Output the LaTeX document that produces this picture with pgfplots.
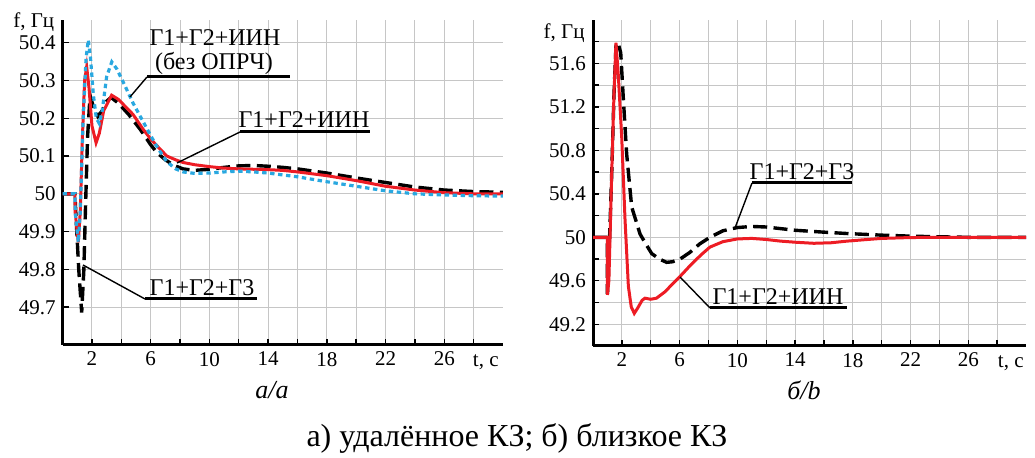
\documentclass[border=0pt]{standalone}
\usepackage{fontspec}
\setmainfont{Liberation Serif}
\usepackage{pgfplots}
\pgfplotsset{compat=1.18}
\definecolor{cred}{RGB}{237,28,36}
\definecolor{cblue}{RGB}{41,168,224}
\pgfplotsset{mystyle/.style={
  scale only axis, axis x line=bottom, axis y line=left,
  axis line style={-, line width=1.5pt, black},
  tick align=inside, major tick length=3pt, minor tick length=3pt,
  tick style={black, line width=0.7pt},
  grid=both, major grid style={gray!45, line width=0.5pt}, minor grid style={gray!45, line width=0.5pt},
  ticklabel style={font=\fontsize{10.5}{12}\selectfont},
  /pgf/number format/assume math mode=true,
  xmin=0, xmax=30, xtick={2,4,...,28},
  xticklabels={2,,6,,10,,14,,18,,22,,26,},
  clip mode=individual,
}}
\tikzset{redl/.style={cred, line width=1.5pt},
  blackd/.style={black, line width=1.7pt, dash pattern=on 7pt off 3.2pt},
  blued/.style={cblue, line width=1.6pt, dash pattern=on 2.2pt off 1.8pt},
  ann/.style={font=\fontsize{12}{14}\selectfont, inner sep=0pt, anchor=base},
  lead/.style={black, line width=0.7pt},
  uline/.style={black, line width=1.5pt}}
\begin{document}
\begin{tikzpicture}
\path[use as bounding box] (0,0) rectangle (517.5pt,229pt);
% ---------- left panel ----------
\begin{axis}[mystyle, at={(31.3pt,56.5pt)}, anchor=south west,
  width=220.2pt, height=162.5pt, ymin=49.6, ymax=50.46,
  ytick={49.7,49.8,49.9,50,50.1,50.2,50.3,50.4},
  yticklabels={49.7,49.8,49.9,50,50.1,50.2,50.3,50.4}]
\addplot[blackd] table {
0 50
0.84 50
0.9 49.95
1.1 49.8
1.3 49.686
1.45 49.8
1.55 49.95
1.7 50.15
1.87 50.26
2.1 50.23
2.4 50.205
2.7 50.22
3.0 50.245
3.3 50.255
3.8 50.24
4.5 50.21
5.3 50.17
6.0 50.13
6.4 50.11
7.0 50.09
7.6 50.075
8.2 50.066
9.0 50.062
10 50.065
11 50.07
12 50.074
13 50.075
14 50.073
15 50.07
16 50.066
18 50.055
20 50.042
22 50.03
24 50.018
26 50.01
28 50.006
30 50.004
};
\addplot[redl] table {
0 50
0.84 50
0.86 49.95
1.07 49.872
1.2 49.95
1.35 50.15
1.5 50.3
1.64 50.336
1.8 50.28
2.0 50.18
2.28 50.135
2.5 50.16
2.8 50.22
3.34 50.261
3.8 50.25
4.3 50.23
4.8 50.21
5.5 50.17
6.0 50.145
6.6 50.12
7.1 50.10
7.7 50.09
8.2 50.083
9 50.077
10 50.072
11 50.068
12 50.066
13 50.065
14 50.064
15 50.062
16 50.058
18 50.048
20 50.035
22 50.02
24 50.01
26 50.003
28 50.0
30 50.0
};
\addplot[blued] table {
0 50
0.84 50
0.86 49.95
1.07 49.872
1.2 49.95
1.4 50.2
1.6 50.36
1.75 50.407
1.9 50.36
2.1 50.26
2.3 50.2
2.5 50.186
2.7 50.22
3.0 50.31
3.35 50.349
3.7 50.33
4.2 50.29
4.8 50.24
5.5 50.19
6.0 50.154
6.5 50.12
7.1 50.085
7.7 50.066
8.2 50.058
9.0 50.054
10 50.055
11 50.058
12 50.06
13 50.058
14 50.055
16 50.045
18 50.032
20 50.02
22 50.008
24 50.0
26 49.997
28 49.995
30 49.994
};
\node[anchor=east, font=\fontsize{10.5}{12}\selectfont, inner sep=1pt] at ([xshift=-3pt,yshift=-1pt]rel axis cs:0,1) {f, Гц};
\node[anchor=north east, font=\fontsize{10.5}{12}\selectfont, inner sep=1pt] at ([xshift=-1pt,yshift=-3.5pt]rel axis cs:1,0) {t, c};
\end{axis}
% ---------- right panel ----------
\begin{axis}[mystyle, at={(296.5pt,56pt)}, anchor=south west,
  width=216.5pt, height=163pt, ymin=49, ymax=52,
  ytick={49.2,49.6,50,50.4,50.8,51.2,51.6},
  yticklabels={49.2,49.6,50,50.4,50.8,51.2,51.6},
  minor ytick={49.4,49.8,50.2,50.6,51.0,51.4,51.8}]
\addplot[blackd] table {
0 50
0.99 50
1.0 49.48
1.05 49.6
1.3 50.6
1.45 51.3
1.6 51.79
1.75 51.78
1.92 51.70
2.1 51.28
2.33 50.77
2.68 50.28
3.26 50.03
3.7 49.93
4.07 49.85
4.6 49.8
5.1 49.77
5.5 49.775
6.03 49.80
6.7 49.86
7.4 49.94
8.1 50.0
9 50.06
10 50.09
11 50.1
12 50.095
13 50.08
14 50.065
15.7 50.05
17.6 50.035
20 50.02
22.2 50.01
24 50.005
26 50.0
30 50.0
};
\addplot[redl] table {
0 50
0.99 50
1.0 49.47
1.1 49.6
1.3 50.6
1.45 51.3
1.59 51.79
1.75 51.5
1.99 50.92
2.22 50.16
2.45 49.55
2.65 49.36
2.86 49.30
3.1 49.35
3.4 49.42
3.6 49.44
4.0 49.43
4.4 49.44
5.0 49.5
5.5 49.57
6.03 49.64
6.8 49.75
7.5 49.84
8.1 49.91
9.0 49.96
10 49.985
11 49.99
12 49.98
13 49.965
14 49.955
15.3 49.945
16.5 49.95
17.6 49.965
19 49.98
20 49.99
22 49.998
24 50.0
30 50.0
};
\node[anchor=east, font=\fontsize{10.5}{12}\selectfont, inner sep=1pt] at ([xshift=-3pt,yshift=-6.5pt]rel axis cs:0,1) {f, Гц};
\node[anchor=north east, font=\fontsize{10.5}{12}\selectfont, inner sep=1pt] at ([xshift=0pt,yshift=-3.5pt]rel axis cs:1,0) {t, c};
\end{axis}
% ---------- annotations (left) ----------
\node[ann] at (107.5pt,206pt) {Г1+Г2+ИИН};
\node[ann] at (107pt,194.3pt) {(без ОПРЧ)};
\draw[uline] (73.5pt,190.5pt) -- (145pt,190.5pt);
\draw[lead] (73.5pt,190.5pt) -- (65pt,180.5pt);
\node[ann] at (152pt,165pt) {Г1+Г2+ИИН};
\draw[uline] (120pt,163pt) -- (185pt,163pt);
\draw[lead] (120pt,163pt) -- (88.5pt,147.5pt);
\node[ann] at (101pt,81.2pt) {Г1+Г2+Г3};
\draw[uline] (72.5pt,79.5pt) -- (128.5pt,79.5pt);
\draw[lead] (72.5pt,79.5pt) -- (41.5pt,96.5pt);
% ---------- annotations (right) ----------
\node[ann] at (401pt,139pt) {Г1+Г2+Г3};
\draw[uline] (376pt,137.5pt) -- (426pt,137.5pt);
\draw[lead] (376pt,137.5pt) -- (367.5pt,115pt);
\node[ann] at (389pt,76.5pt) {Г1+Г2+ИИН};
\draw[uline] (355pt,75pt) -- (423.5pt,75pt);
\draw[lead] (355pt,75pt) -- (340pt,90.5pt);
% ---------- captions ----------
\node[font=\fontsize{13}{15}\selectfont\itshape] at (136pt,34pt) {a/a};
\node[font=\fontsize{13}{15}\selectfont\itshape] at (402pt,34pt) {б/b};
\node[font=\fontsize{16}{19}\selectfont] at (258.5pt,9.5pt) {а) удалённое КЗ; б) близкое КЗ};
\end{tikzpicture}
\end{document}
